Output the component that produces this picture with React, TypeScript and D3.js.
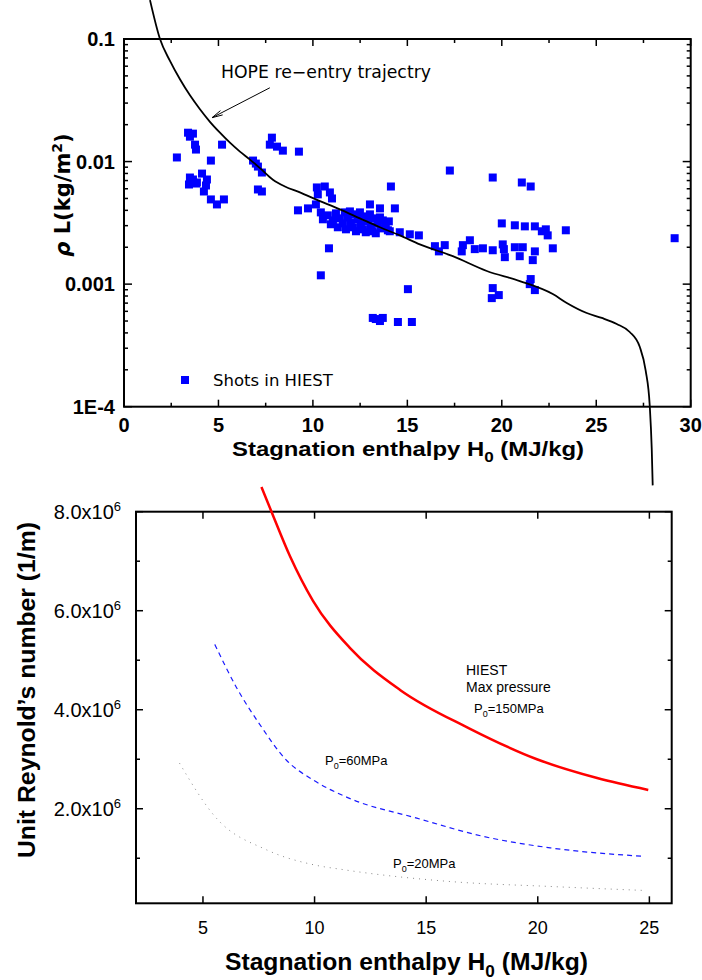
import React from 'react';
import * as d3 from 'd3';

// ---------- Top chart data ----------
const hopeH = [1.376, 1.905, 2.434, 2.963, 3.492, 4.021, 4.55, 5.079, 5.608, 6.138, 6.667, 7.196, 7.884, 8.519, 9.312, 10.159, 11.429, 12.487, 13.545, 14.603, 15.661, 17.407, 19.206, 20.952, 22.698, 23.439, 24.497, 25.291, 26.085, 26.772, 27.302, 27.619, 27.831, 27.937, 27.989];
const hopeRhoL = [0.2075, 0.1, 0.0662, 0.0469, 0.0347, 0.0267, 0.0211, 0.0172, 0.01425, 0.01205, 0.01038, 0.00885, 0.00711, 0.00626, 0.0056, 0.00491, 0.00407, 0.00344, 0.00291, 0.0025, 0.00211, 0.00169, 0.00128, 0.00106, 0.00083, 0.000702, 0.000581, 0.00053, 0.000473, 0.000407, 0.000308, 0.000196, 0.000102, 0.0000456, 0.0000228];

const shotH = [
  2.80, 3.39, 3.49, 3.65, 3.76, 3.81, 4.60, 5.19, 3.49, 3.44, 3.81, 4.13, 4.39, 4.34, 4.23, 4.60, 4.92, 5.29, 3.86, 3.65,
  6.83, 6.98, 7.09, 7.30, 7.09, 7.30, 7.83, 7.72, 8.10, 8.41, 9.26, 9.21, 9.74,
  10.21, 10.63, 10.26, 10.90, 11.01, 10.16, 10.42, 10.53, 10.85, 10.42, 14.13, 13.02, 13.55, 14.34,
  10.79, 11.06, 11.22, 11.43, 11.59, 11.69, 11.85, 12.01, 12.12, 12.22, 12.38, 12.54, 12.65, 12.75, 12.91, 13.07, 13.17,
  13.28, 13.44, 13.60, 13.70, 13.86, 13.97, 11.32, 11.75, 12.28, 12.80, 13.33, 10.95, 11.96, 12.49, 13.02, 13.55, 14.02,
  14.07, 14.60, 15.13, 15.61, 16.46, 16.67, 16.98, 17.88, 17.94, 18.31, 18.57, 19.00, 19.52, 20.05, 20.11, 20.16,
  20.00, 20.69, 21.22, 21.75, 22.33, 22.43, 22.12, 23.39, 20.69, 21.11, 20.95, 21.75, 21.64, 22.70, 29.15,
  17.25, 19.52, 21.06, 21.53, 15.03, 19.52, 19.47, 19.84, 21.53, 21.48, 21.75,
  13.17, 13.55, 13.70, 13.33, 14.50, 15.24
];
const shotRhoL = [
  0.0108, 0.0172, 0.01596, 0.0169, 0.01374, 0.01253, 0.01019, 0.01374, 0.00741, 0.0065, 0.00662, 0.00798, 0.00714, 0.00638, 0.0057, 0.00491, 0.00447, 0.00491, 0.00675, 0.00714,
  0.01019, 0.00963, 0.0091, 0.00814, 0.00592, 0.0057, 0.01567, 0.01374, 0.01324, 0.01228, 0.01205, 0.004, 0.00415,
  0.00615, 0.00626, 0.0054, 0.0056, 0.005, 0.00447, 0.00385, 0.00338, 0.00196, 0.00118, 0.00626, 0.00447, 0.00415, 0.00415,
  0.00364, 0.00331, 0.00378, 0.00344, 0.00313, 0.00385, 0.0035, 0.00319, 0.00291, 0.00371, 0.00338, 0.00308, 0.0028, 0.00357, 0.00325, 0.00296, 0.0027,
  0.00344, 0.00313, 0.00285, 0.00331, 0.00302, 0.00275, 0.00291, 0.0028, 0.0027, 0.00265, 0.0026, 0.00308, 0.00392, 0.00385, 0.00371, 0.0035, 0.00325,
  0.0027, 0.00265, 0.00255, 0.0025, 0.00204, 0.00185, 0.00208, 0.00185, 0.00208, 0.00228, 0.00193, 0.00196, 0.00189, 0.00211, 0.00193, 0.00166,
  0.00313, 0.00302, 0.00296, 0.00296, 0.0028, 0.0025, 0.0027, 0.00275, 0.002, 0.002, 0.00169, 0.00185, 0.00157, 0.00196, 0.00237,
  0.00845, 0.00741, 0.00675, 0.00626, 0.00091, 0.000928, 0.000769, 0.000814, 0.0011, 0.001, 0.000894,
  0.00053, 0.0005, 0.00053, 0.000519, 0.000491, 0.000491
];

const topXTicks = [0, 5, 10, 15, 20, 25, 30];
const topYTicks = [1e-4, 1e-3, 1e-2, 1e-1];
const topYTickLabels = ['1E-4', '0.001', '0.01', '0.1'];
const arrowFrom = [7.72, 0.040];
const arrowTo = [4.66, 0.0228];

// ---------- Bottom chart data ----------
const p150H = [7.62, 8.07, 8.9, 9.93, 11.58, 13.83, 16.9, 19.96, 22.66, 24.95];
const p150Re = [8.5e6, 8.0e6, 7.1e6, 6.2e6, 5.25e6, 4.4e6, 3.63e6, 3.0e6, 2.62e6, 2.38e6];
const p60H = [5.53, 6.5, 7.55, 8.74, 9.94, 11.51, 14.58, 17.57, 20.56, 24.68];
const p60Re = [5.32e6, 4.45e6, 3.7e6, 2.98e6, 2.58e6, 2.22e6, 1.81e6, 1.44e6, 1.21e6, 1.04e6];
const p20H = [3.95, 5.6, 7.85, 9.94, 11.28, 16.07, 20.56, 24.75];
const p20Re = [2.92e6, 1.81e6, 1.17e6, 0.87e6, 0.77e6, 0.53e6, 0.43e6, 0.35e6];

const botXTicks = [5, 10, 15, 20, 25];
const botYTicks = [1e6, 2e6, 3e6, 4e6, 5e6, 6e6, 7e6, 8e6];
const botYLabelTicks = [2e6, 4e6, 6e6, 8e6];
const botYLabels = ['2.0x10', '4.0x10', '6.0x10', '8.0x10'];

const SANS = "'Liberation Sans', Arial, sans-serif";
const WIDE = "'DejaVu Sans', sans-serif";

export default function App() {
  const W = 702, H = 980;
  const t = { left: 124, right: 690.7, top: 39, bottom: 406.7 };
  const xT = d3.scaleLinear().domain([0, 30]).range([t.left, t.right]);
  const yT = d3.scaleLog().domain([1e-4, 0.1]).range([t.bottom, t.top]);

  const b = { left: 136, right: 671.7, top: 511.7, bottom: 903.3 };
  const xB = d3.scaleLinear().domain([2, 26]).range([b.left, b.right]);
  const yB = d3.scaleLinear().domain([0.09e6, 8e6]).range([b.bottom, b.top]);

  const hopeLine = d3.line<number>()
    .x((_, i) => xT(hopeH[i]))
    .y((_, i) => yT(hopeRhoL[i]))
    .curve(d3.curveMonotoneX)(hopeH);

  const mkLine = (hs: number[], rs: number[]) =>
    d3.line<number>().x((_, i) => xB(hs[i])).y((_, i) => yB(rs[i])).curve(d3.curveMonotoneX)(hs) || '';

  const minorLog: number[] = [];
  for (let d = -4; d <= -2; d++) for (let k = 2; k <= 9; k++) minorLog.push(k * Math.pow(10, d));
  const minorX: number[] = topXTicks.slice(0, -1).map(v => v + 2.5);

  const ax0 = xT(arrowFrom[0]), ay0 = yT(arrowFrom[1]);
  const ax1 = xT(arrowTo[0]), ay1 = yT(arrowTo[1]);
  const ang = Math.atan2(ay1 - ay0, ax1 - ax0);
  const hl = 11, ha = 0.22;
  const b1 = [ax1 - hl * Math.cos(ang - ha), ay1 - hl * Math.sin(ang - ha)];
  const b2 = [ax1 - hl * Math.cos(ang + ha), ay1 - hl * Math.sin(ang + ha)];

  const ms = 8;

  return (
    <svg width={W} height={H} style={{ position: 'absolute', left: 0, top: 0, background: '#fff' }}>
      <rect x={0} y={0} width={W} height={H} fill="#fff" />
      {/* ================= TOP CHART ================= */}
      <g>
        {shotH.map((h, i) => (
          <rect key={'s' + i} x={xT(h) - ms / 2} y={yT(shotRhoL[i]) - ms / 2} width={ms} height={ms} fill="#0000ff" />
        ))}
        <rect x={t.left} y={t.top} width={t.right - t.left} height={t.bottom - t.top} fill="none" stroke="#000" strokeWidth={2} />
        {topXTicks.map(v => (
          <g key={'tx' + v}>
            <line x1={xT(v)} x2={xT(v)} y1={t.bottom} y2={t.bottom - 7} stroke="#000" strokeWidth={1.5} />
            <line x1={xT(v)} x2={xT(v)} y1={t.top} y2={t.top + 7} stroke="#000" strokeWidth={1.5} />
            <text x={xT(v)} y={432} textAnchor="middle" fontFamily={SANS} fontWeight="bold" fontSize={20}>{v}</text>
          </g>
        ))}
        {minorX.map(v => (
          <g key={'tmx' + v}>
            <line x1={xT(v)} x2={xT(v)} y1={t.bottom} y2={t.bottom - 4} stroke="#000" strokeWidth={1.5} />
            <line x1={xT(v)} x2={xT(v)} y1={t.top} y2={t.top + 4} stroke="#000" strokeWidth={1.5} />
          </g>
        ))}
        {topYTicks.map((v, i) => (
          <g key={'ty' + v}>
            <line x1={t.left} x2={t.left + 8} y1={yT(v)} y2={yT(v)} stroke="#000" strokeWidth={1.5} />
            <line x1={t.right} x2={t.right - 8} y1={yT(v)} y2={yT(v)} stroke="#000" strokeWidth={1.5} />
            <text x={115} y={yT(v)} dy="0.36em" textAnchor="end" fontFamily={SANS} fontWeight="bold" fontSize={20}>{topYTickLabels[i]}</text>
          </g>
        ))}
        {minorLog.map(v => (
          <g key={'tmy' + v}>
            <line x1={t.left} x2={t.left + 4} y1={yT(v)} y2={yT(v)} stroke="#000" strokeWidth={1.5} />
            <line x1={t.right} x2={t.right - 4} y1={yT(v)} y2={yT(v)} stroke="#000" strokeWidth={1.5} />
          </g>
        ))}
        <path d={hopeLine || ''} fill="none" stroke="#000" strokeWidth={1.8} />
        <line x1={ax0} y1={ay0} x2={ax1} y2={ay1} stroke="#000" strokeWidth={1} />
        <path d={`M${b1[0]},${b1[1]}L${ax1},${ay1}L${b2[0]},${b2[1]}`} fill="none" stroke="#000" strokeWidth={1} />
        <text x={221} y={78} fontFamily={WIDE} fontSize={17} textLength={210} lengthAdjust="spacingAndGlyphs">HOPE re−entry trajectry</text>
        <rect x={185 - ms / 2} y={380 - ms / 2} width={ms} height={ms} fill="#0000ff" />
        <text x={213} y={386} fontFamily={WIDE} fontSize={16.5}>Shots in HIEST</text>
        <text x={408} y={456} textAnchor="middle" fontFamily={SANS} fontWeight="bold" fontSize={21} textLength={352} lengthAdjust="spacingAndGlyphs">
          Stagnation enthalpy H<tspan fontSize={15} dy={6}>0</tspan><tspan dy={-6}> (MJ/kg)</tspan>
        </text>
        <text transform="translate(70,195) rotate(-90)" textAnchor="middle" fontFamily={WIDE} fontWeight="bold" fontSize={21}>
          <tspan fontStyle="italic">ρ</tspan> L(kg/m<tspan fontSize={14} dy={-8}>2</tspan><tspan dy={8}>)</tspan>
        </text>
      </g>

      {/* ================= BOTTOM CHART ================= */}
      <g>
        <rect x={b.left} y={b.top} width={b.right - b.left} height={b.bottom - b.top} fill="none" stroke="#000" strokeWidth={2} />
        {botXTicks.map(v => (
          <g key={'bx' + v}>
            <line x1={xB(v)} x2={xB(v)} y1={b.bottom} y2={b.bottom - 7} stroke="#000" strokeWidth={1.5} />
            <line x1={xB(v)} x2={xB(v)} y1={b.top} y2={b.top + 7} stroke="#000" strokeWidth={1.5} />
            <text x={xB(v)} y={934} textAnchor="middle" fontFamily={SANS} fontSize={18}>{v}</text>
          </g>
        ))}
        {botYTicks.map(v => {
          const major = v % 2e6 === 0;
          const len = major ? 7 : 4;
          return (
            <g key={'by' + v}>
              <line x1={b.left} x2={b.left + len} y1={yB(v)} y2={yB(v)} stroke="#000" strokeWidth={1.5} />
              <line x1={b.right} x2={b.right - len} y1={yB(v)} y2={yB(v)} stroke="#000" strokeWidth={1.5} />
            </g>
          );
        })}
        {botYLabelTicks.map((v, i) => (
          <text key={'byl' + v} x={121} y={yB(v)} dy="0.36em" textAnchor="end" fontFamily={SANS} fontSize={20}>
            {botYLabels[i]}<tspan fontSize={13} dy={-8}>6</tspan>
          </text>
        ))}
        <path d={mkLine(p150H, p150Re)} fill="none" stroke="#ff0000" strokeWidth={2.5} />
        <path d={mkLine(p60H, p60Re)} fill="none" stroke="#1a1aff" strokeWidth={1.2} strokeDasharray="5,4" />
        <path d={mkLine(p20H, p20Re)} fill="none" stroke="#888" strokeWidth={1} strokeDasharray="1,5" />
        <text x={466} y={675} fontFamily={SANS} fontSize={14}>HIEST</text>
        <text x={466} y={692} fontFamily={SANS} fontSize={14}>Max pressure</text>
        <text x={474} y={713} fontFamily={SANS} fontSize={13}>P<tspan fontSize={9} dy={4}>0</tspan><tspan dy={-4}>=150MPa</tspan></text>
        <text x={325} y={765} fontFamily={SANS} fontSize={13}>P<tspan fontSize={9} dy={4}>0</tspan><tspan dy={-4}>=60MPa</tspan></text>
        <text x={393} y={868} fontFamily={SANS} fontSize={13}>P<tspan fontSize={9} dy={4}>0</tspan><tspan dy={-4}>=20MPa</tspan></text>
        <text x={406.5} y={970} textAnchor="middle" fontFamily={SANS} fontWeight="bold" fontSize={23} textLength={363} lengthAdjust="spacingAndGlyphs">
          Stagnation enthalpy H<tspan fontSize={16} dy={7}>0</tspan><tspan dy={-7}> (MJ/kg)</tspan>
        </text>
        <text transform="translate(35,690) rotate(-90)" textAnchor="middle" fontFamily={SANS} fontWeight="bold" fontSize={23} textLength={336} lengthAdjust="spacingAndGlyphs">
          Unit Reynold’s number (1/m)
        </text>
      </g>
    </svg>
  );
}
